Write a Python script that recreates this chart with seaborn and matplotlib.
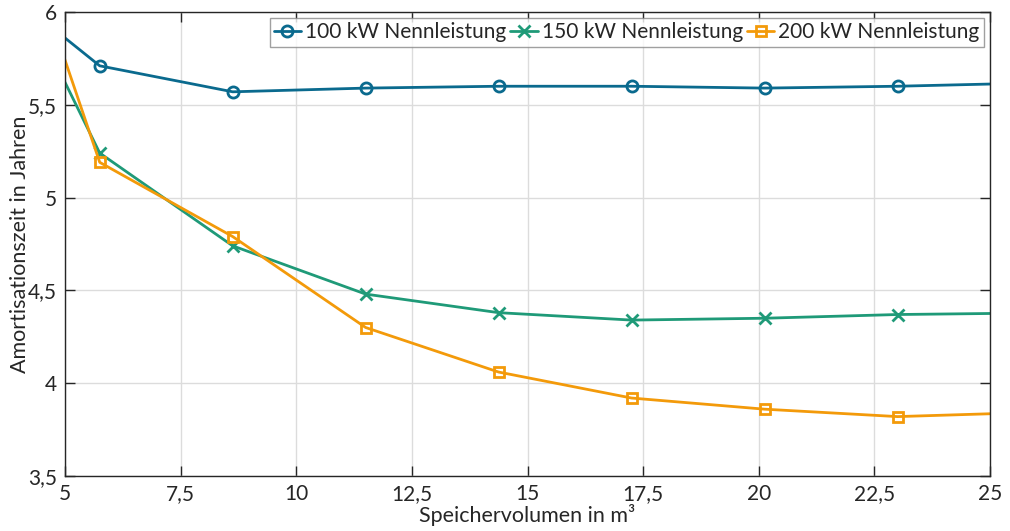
import numpy as np
import pandas as pd
import seaborn as sns
import matplotlib
matplotlib.use("Agg")
import matplotlib.pyplot as plt

# data
volumen = [2.875, 5.75, 8.625, 11.5, 14.375, 17.25, 20.125, 23.0, 25.875]
kw100 = [6.285, 5.71, 5.57, 5.59, 5.60, 5.60, 5.59, 5.60, 5.617]
kw150 = [6.70, 5.24, 4.74, 4.48, 4.38, 4.34, 4.35, 4.37, 4.378]
kw200 = [7.30, 5.19, 4.79, 4.30, 4.06, 3.92, 3.86, 3.82, 3.842]
series_names = ["100 kW Nennleistung", "150 kW Nennleistung", "200 kW Nennleistung"]
x_ticks = [5, 7.5, 10, 12.5, 15, 17.5, 20, 22.5, 25]
x_ticklabels = ["5", "7,5", "10", "12,5", "15", "17,5", "20", "22,5", "25"]
y_ticks = [3.5, 4, 4.5, 5, 5.5, 6]
y_ticklabels = ["3,5", "4", "4,5", "5", "5,5", "6"]

sns.set_theme(style="white")
plt.rcParams['font.family'] = ['Lato', 'DejaVu Sans']

fig = plt.figure(figsize=(10.10, 5.31), dpi=100)
ax = fig.add_axes([0.0644, 0.1036, 0.9158, 0.8738])

colors = ["#0a6a8e", "#1f9a78", "#f39a0a"]
markers = ["o", "x", "s"]
msizes = [8, 9, 7]
for vals, name, c, m, ms in zip([kw100, kw150, kw200], series_names, colors, markers, msizes):
    df = pd.DataFrame({"x": volumen, "y": vals})
    kw = dict(marker=m, markersize=ms, markeredgewidth=2.0, linewidth=2.0, color=c,
              label=name)
    if m != "x":
        kw["markerfacecolor"] = "none"
    kw["markeredgecolor"] = c
    sns.lineplot(data=df, x="x", y="y", ax=ax, sort=False, **kw)

ax.set_xlim(5, 25)
ax.set_ylim(3.5, 6)
ax.set_xticks(x_ticks)
ax.set_xticklabels(x_ticklabels)
ax.set_yticks(y_ticks)
ax.set_yticklabels(y_ticklabels)
ax.grid(True, color="#dcdcdc", linewidth=1.0)
ax.set_axisbelow(True)
for s in ax.spines.values():
    s.set_color("#262626")
    s.set_linewidth(1.0)
ax.tick_params(axis="both", which="both", direction="in", length=7, width=1.0,
               top=True, right=True, bottom=True, left=True,
               labelsize=15, colors="#262626", pad=6)
ax.set_xlabel("Speichervolumen in m³", fontsize=15.5, color="#262626", labelpad=0)
ax.set_ylabel("Amortisationszeit in Jahren", fontsize=15.5, color="#262626", labelpad=-2)

leg = ax.legend(loc="upper right", ncol=3, fontsize=15, frameon=True, fancybox=False,
                handlelength=1.3, handletextpad=0.2, columnspacing=0.2,
                borderpad=0.2, borderaxespad=0.3)
leg.get_frame().set_edgecolor("#888888")
leg.get_frame().set_linewidth(1.0)

fig.savefig("out.png", dpi=100)
